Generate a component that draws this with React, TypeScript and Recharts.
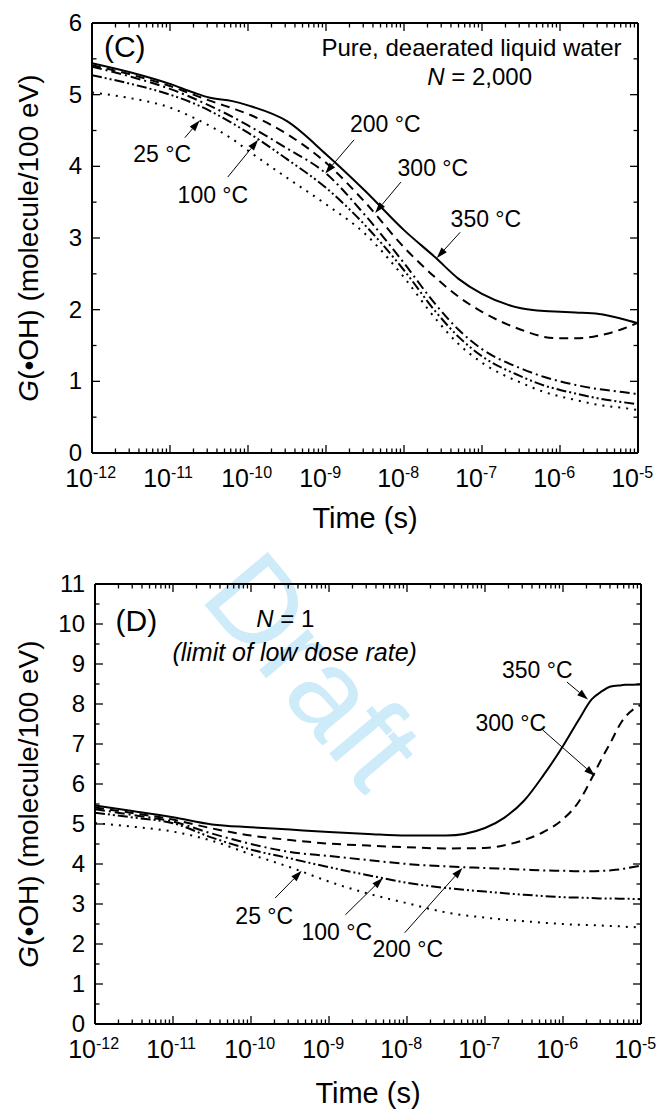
import React from 'react';
import { LineChart, Line, XAxis, YAxis, ReferenceLine, ReferenceDot } from 'recharts';

// x values are log10(time / s)
const timeC = [-12, -11.5, -11, -10.7, -10.5, -10.2, -10, -9.5, -9, -8.5, -8, -7.6, -7.3, -7, -6.5, -6.2, -6, -5.8, -5.5, -5.2, -5];
const g25C = [5.03, 4.95, 4.82, 4.68, 4.57, 4.38, 4.22, 3.84, 3.47, 3.06, 2.45, 1.88, 1.52, 1.26, 0.98, 0.85, 0.79, 0.74, 0.67, 0.63, 0.6];
const g100C = [5.27, 5.15, 5.0, 4.88, 4.78, 4.6, 4.47, 4.1, 3.7, 3.18, 2.55, 1.98, 1.62, 1.35, 1.07, 0.94, 0.88, 0.83, 0.76, 0.71, 0.68];
const g200C = [5.39, 5.25, 5.08, 4.95, 4.85, 4.69, 4.57, 4.25, 3.9, 3.32, 2.65, 2.08, 1.72, 1.45, 1.18, 1.06, 1.0, 0.95, 0.89, 0.85, 0.82];
const g300C = [5.41, 5.28, 5.12, 5.0, 4.92, 4.81, 4.73, 4.45, 4.05, 3.5, 2.87, 2.45, 2.18, 1.97, 1.72, 1.62, 1.6, 1.6, 1.64, 1.73, 1.82];
const g350C = [5.44, 5.31, 5.15, 5.03, 4.96, 4.91, 4.85, 4.63, 4.17, 3.66, 3.11, 2.73, 2.43, 2.22, 2.02, 1.98, 1.97, 1.96, 1.94, 1.87, 1.81];

const timeD = [-12, -11.5, -11, -10.5, -10, -9.5, -9, -8.5, -8, -7.5, -7, -6.75, -6.5, -6.25, -6, -5.8, -5.63, -5.5, -5.4, -5.25, -5.2, -5];
const g25D = [5.02, 4.93, 4.81, 4.58, 4.24, 3.92, 3.56, 3.26, 3.02, 2.79, 2.66, 2.61, 2.57, 2.53, 2.5, 2.48, 2.47, 2.46, 2.45, 2.44, 2.43, 2.42];
const g100D = [5.28, 5.16, 5.02, 4.66, 4.36, 4.14, 3.92, 3.72, 3.53, 3.4, 3.31, 3.27, 3.23, 3.2, 3.17, 3.16, 3.15, 3.14, 3.14, 3.13, 3.13, 3.12];
const g200D = [5.37, 5.22, 5.06, 4.76, 4.5, 4.3, 4.2, 4.1, 4.0, 3.94, 3.9, 3.88, 3.86, 3.84, 3.83, 3.82, 3.82, 3.83, 3.84, 3.87, 3.89, 3.96];
const g300D = [5.41, 5.27, 5.11, 4.89, 4.71, 4.6, 4.51, 4.46, 4.42, 4.39, 4.4, 4.47, 4.6, 4.8, 5.12, 5.55, 6.15, 6.65, 7.0, 7.55, 7.68, 7.98];
const g350D = [5.46, 5.32, 5.17, 4.99, 4.92, 4.86, 4.8, 4.75, 4.71, 4.71, 4.9, 5.16, 5.58, 6.22, 6.95, 7.6, 8.12, 8.32, 8.43, 8.47, 8.48, 8.49];

const decades = [-12, -11, -10, -9, -8, -7, -6, -5];
const yTicksC = [0, 0.5, 1, 1.5, 2, 2.5, 3, 3.5, 4, 4.5, 5, 5.5, 6];
const yTicksD = [0, 0.5, 1, 1.5, 2, 2.5, 3, 3.5, 4, 4.5, 5, 5.5, 6, 6.5, 7, 7.5, 8, 8.5, 9, 9.5, 10, 10.5, 11];

// annotations: label position, arrow tail and arrow tip in data units
const notesC = [
  { text: '25 °C', at: [-11.1, 4.17], tail: [-10.81, 4.4], tip: [-10.62, 4.64] },
  { text: '100 °C', at: [-10.45, 3.61], tail: [-10.26, 3.85], tip: [-9.87, 4.37] },
  { text: '200 °C', at: [-8.24, 4.59], tail: [-8.64, 4.37], tip: [-9.01, 3.9] },
  { text: '300 °C', at: [-7.63, 3.98], tail: [-8.04, 3.78], tip: [-8.37, 3.35] },
  { text: '350 °C', at: [-6.95, 3.27], tail: [-7.28, 3.08], tip: [-7.58, 2.72] },
];
const notesD = [
  { text: '25 °C', at: [-9.83, 2.7], tail: [-9.69, 3.15], tip: [-9.35, 3.83] },
  { text: '100 °C', at: [-8.9, 2.3], tail: [-8.79, 2.73], tip: [-8.31, 3.65] },
  { text: '200 °C', at: [-7.99, 1.88], tail: [-8.03, 2.28], tip: [-7.29, 3.9] },
  { text: '300 °C', at: [-6.67, 7.53], tail: [-6.26, 7.35], tip: [-5.59, 6.2] },
  { text: '350 °C', at: [-6.33, 8.85], tail: [-5.95, 8.55], tip: [-5.68, 8.11] },
];

const FONT = "'Liberation Sans', Arial, Helvetica, sans-serif";

const series = [
  { key: 'g25', dash: '2 6' },
  { key: 'g100', dash: '10 3 2 3 2 3' },
  { key: 'g200', dash: '10 4 2 4' },
  { key: 'g300', dash: '9 6' },
  { key: 'g350', dash: undefined },
];

const buildRows = (t: number[], a: number[], b: number[], c: number[], d: number[], e: number[]) =>
  t.map((x, i) => ({ t: x, g25: a[i], g100: b[i], g200: c[i], g300: d[i], g350: e[i] }));

const dataC = buildRows(timeC, g25C, g100C, g200C, g300C, g350C);
const dataD = buildRows(timeD, g25D, g100D, g200D, g300D, g350D);

const xTicks: number[] = [];
decades.forEach((d, i) => {
  xTicks.push(d);
  if (i < decades.length - 1) for (let k = 2; k <= 9; k++) xTicks.push(d + Math.log10(k));
});

const isMajor = (v: number) => Math.abs(v - Math.round(v)) < 1e-6;

const BottomTick = (p: any) => {
  const { x, y, payload } = p;
  const v = payload.value;
  const major = isMajor(v);
  return (
    <g>
      <line x1={x} x2={x} y1={y} y2={y - (major ? 8 : 4.5)} stroke="#000" strokeWidth={1.3} />
      {major && (
        <g fontFamily={FONT} fill="#000">
          <text x={x + 1} y={y + 34} textAnchor="end" fontSize={25}>10</text>
          <text x={x + 1} y={y + 25} textAnchor="start" fontSize={16}>{String(Math.round(v))}</text>
        </g>
      )}
    </g>
  );
};

const TopTick = (p: any) => {
  const { x, y, payload } = p;
  const major = isMajor(payload.value);
  return <line x1={x} x2={x} y1={y} y2={y + (major ? 8 : 4.5)} stroke="#000" strokeWidth={1.3} />;
};

const LeftTick = (p: any) => {
  const { x, y, payload } = p;
  const major = isMajor(payload.value);
  return (
    <g>
      <line x1={x} x2={x + (major ? 8 : 4.5)} y1={y} y2={y} stroke="#000" strokeWidth={1.3} />
      {major && (
        <text x={x - 10} y={y} dy="0.34em" textAnchor="end" fontFamily={FONT} fontSize={24} fill="#000">
          {String(payload.value)}
        </text>
      )}
    </g>
  );
};

const RightTick = (p: any) => {
  const { x, y, payload } = p;
  const major = isMajor(payload.value);
  return <line x1={x} x2={x - (major ? 8 : 4.5)} y1={y} y2={y} stroke="#000" strokeWidth={1.3} />;
};

const YTitle = (p: any) => {
  const vb = p.viewBox || {};
  const cx = (vb.x ?? 0) + 16;
  const cy = (vb.y ?? 0) + (vb.height ?? 0) / 2;
  return (
    <text x={cx} y={cy} dy="0.36em" transform={`rotate(-90 ${cx} ${cy})`} textAnchor="middle"
      fontFamily={FONT} fontSize={28} fill="#000">
      <tspan fontStyle="italic">G</tspan>
      <tspan>(•OH) (molecule/100 eV)</tspan>
    </text>
  );
};

const XTitle = (p: any) => {
  const vb = p.viewBox || {};
  const cx = (vb.x ?? 0) + (vb.width ?? 0) / 2;
  const cy = (vb.y ?? 0) + (p.gap ?? 65);
  return (
    <text x={cx} y={cy} dy="0.36em" textAnchor="middle" fontFamily={FONT} fontSize={29} fill="#000">
      Time (s)
    </text>
  );
};

const Arrow = (p: any) => {
  const { x1, y1, x2, y2 } = p;
  const ang = Math.atan2(y2 - y1, x2 - x1);
  const L = 11;
  const W = 3.6;
  const bx = x2 - L * Math.cos(ang);
  const by = y2 - L * Math.sin(ang);
  const px = -Math.sin(ang) * W;
  const py = Math.cos(ang) * W;
  return (
    <g>
      <line x1={x1} y1={y1} x2={bx} y2={by} stroke="#000" strokeWidth={1} />
      <polygon points={`${x2},${y2} ${bx + px},${by + py} ${bx - px},${by - py}`} fill="#000" />
    </g>
  );
};

const textShape = (content: React.ReactNode, size: number, anchor = 'middle', italic = false) => (p: any) => (
  <text x={p.cx} y={p.cy} dy="0.36em" textAnchor={anchor} fontFamily={FONT} fontSize={size}
    fontStyle={italic ? 'italic' : 'normal'} fill="#000">
    {content}
  </text>
);

const renderNotes = (notes: typeof notesC) =>
  notes.flatMap((n, i) => [
    <ReferenceLine key={`a${i}`} xAxisId="b" yAxisId="l" segment={[{ x: n.tail[0], y: n.tail[1] }, { x: n.tip[0], y: n.tip[1] }]}
      shape={Arrow} ifOverflow="visible" />,
    <ReferenceDot key={`t${i}`} xAxisId="b" yAxisId="l" x={n.at[0]} y={n.at[1]} r={0} ifOverflow="visible"
      shape={textShape(n.text, 23)} />,
  ]);

const renderLines = () =>
  series.map((s) => (
    <Line key={s.key} xAxisId="b" yAxisId="l" dataKey={s.key} type="monotone" stroke="#000" strokeWidth={2}
      strokeDasharray={s.dash} dot={false} activeDot={false} isAnimationActive={false} />
  ));

const axes = (yMax: number, yTicks: number[], titleGap: number, leftWidth: number) => [
  <XAxis key="xb" xAxisId="b" dataKey="t" type="number" domain={[-12, -5]} ticks={xTicks} interval={0}
    allowDataOverflow tickSize={0} tickMargin={0} height={60} tick={BottomTick} tickLine={false}
    axisLine={{ stroke: '#000', strokeWidth: 2 }} label={<XTitle gap={titleGap} />} />,
  <XAxis key="xt" xAxisId="t" orientation="top" dataKey="t" type="number" domain={[-12, -5]} ticks={xTicks}
    interval={0} allowDataOverflow tickSize={0} tickMargin={0} height={10} tick={TopTick} tickLine={false}
    axisLine={{ stroke: '#000', strokeWidth: 2 }} />,
  <YAxis key="yl" yAxisId="l" type="number" domain={[0, yMax]} ticks={yTicks} interval={0} allowDataOverflow
    width={leftWidth} tickSize={0} tickMargin={0} tick={LeftTick} tickLine={false}
    axisLine={{ stroke: '#000', strokeWidth: 2 }} label={<YTitle />} />,
  <YAxis key="yr" yAxisId="r" orientation="right" type="number" domain={[0, yMax]} ticks={yTicks} interval={0}
    allowDataOverflow width={10} tickSize={0} tickMargin={0} tick={RightTick} tickLine={false}
    axisLine={{ stroke: '#000', strokeWidth: 2 }} />,
];

export default function App() {
  return (
    <div style={{ position: 'relative', width: 649, fontFamily: FONT }}>
      <div
        style={{
          position: 'absolute', left: 306, top: 662, transform: 'translate(-50%, -50%) rotate(50deg)',
          fontFamily: FONT, fontSize: 120, color: '#cdebf9', whiteSpace: 'nowrap', lineHeight: 1,
        }}
      >
        Draft
      </div>

      <LineChart width={649} height={540} data={dataC} margin={{ top: 5, right: 9, bottom: 35, left: 4 }}>
        {axes(6, yTicksC, 65, 80)}
        {renderLines()}
        {renderNotes(notesC)}
        <ReferenceDot xAxisId="b" yAxisId="l" x={-11.58} y={5.68} r={0} ifOverflow="visible" shape={textShape('(C)', 30)} />
        <ReferenceDot xAxisId="b" yAxisId="l" x={-5.21} y={5.66} r={0} ifOverflow="visible"
          shape={textShape('Pure, deaerated liquid water', 24, 'end')} />
        <ReferenceDot xAxisId="b" yAxisId="l" x={-7.03} y={5.25} r={0} ifOverflow="visible"
          shape={textShape(<><tspan fontStyle="italic">N</tspan><tspan> = 2,000</tspan></>, 24)} />
      </LineChart>

      <LineChart width={649} height={565} data={dataD} margin={{ top: 26, right: 6, bottom: 29, left: 4 }}>
        {axes(11, yTicksD, 69, 83)}
        {renderLines()}
        {renderNotes(notesD)}
        <ReferenceDot xAxisId="b" yAxisId="l" x={-11.47} y={10.1} r={0} ifOverflow="visible" shape={textShape('(D)', 30)} />
        <ReferenceDot xAxisId="b" yAxisId="l" x={-9.56} y={10.15} r={0} ifOverflow="visible"
          shape={textShape(<><tspan fontStyle="italic">N</tspan><tspan> = 1</tspan></>, 24)} />
        <ReferenceDot xAxisId="b" yAxisId="l" x={-9.44} y={9.3} r={0} ifOverflow="visible"
          shape={textShape('(limit of low dose rate)', 25, 'middle', true)} />
      </LineChart>
    </div>
  );
}
